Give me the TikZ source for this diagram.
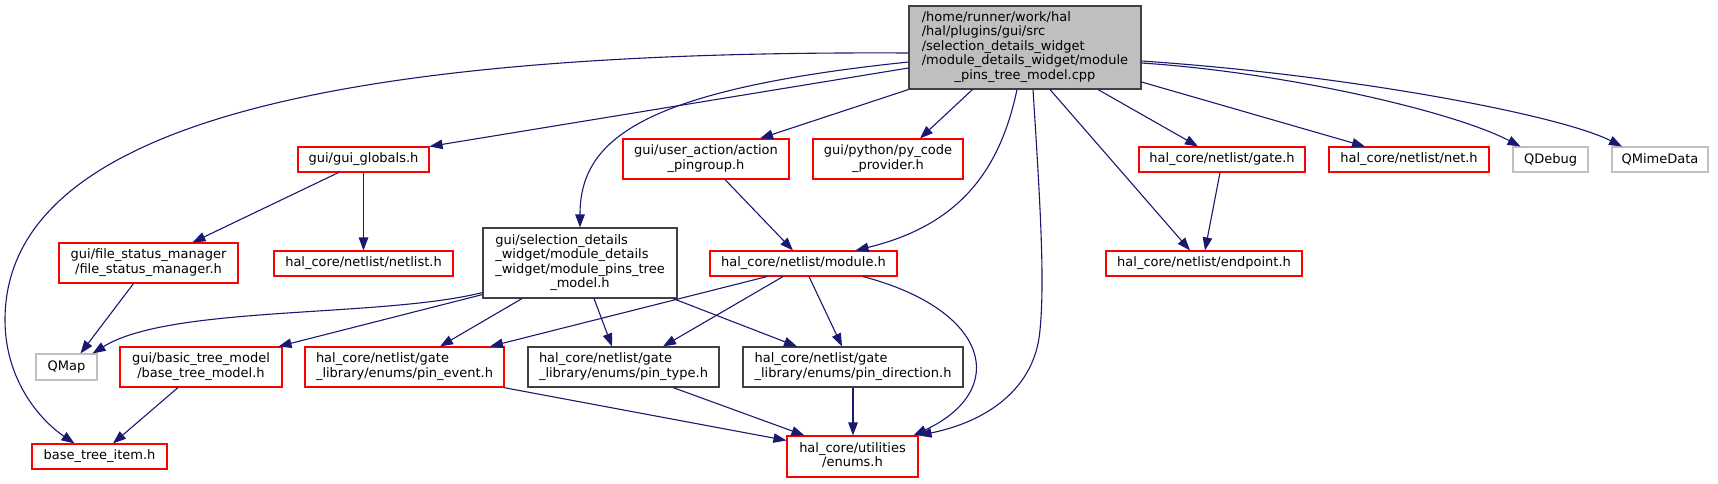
\documentclass[tikz,border=0pt]{standalone}
\usepackage{fontspec}
\setmainfont{DejaVu Sans}
\usetikzlibrary{arrows.meta,calc}
\definecolor{edgec}{HTML}{191970}
\definecolor{redb}{HTML}{FF0000}
\definecolor{grayb}{HTML}{BFBFBF}
\definecolor{darkb}{HTML}{404040}
\definecolor{rootfill}{HTML}{BFBFBF}
\newcommand{\ml}[1]{\begin{tabular}{@{}l@{}}#1\end{tabular}}
\newcommand{\lc}[1]{\multicolumn{1}{@{}c@{}}{#1}}
\begin{document}
\begin{tikzpicture}[x=1pt,y=-1pt,
  box/.style={draw, line width=1.1pt, inner sep=0pt, font=\fontsize{13}{14.5}\selectfont, text=black},
  redbox/.style={box, draw=redb},
  graybox/.style={box, draw=grayb},
  blkbox/.style={box, draw=darkb},
  dep/.style={draw=edgec, line width=1.1pt, -{Triangle[length=13pt,width=9.5pt]}},
]
\path[use as bounding box, fill=white] (0,0) rectangle (1718,483);

% nodes
\node[blkbox, fill=rootfill, minimum width=232pt, minimum height=83pt] (root) at (1025,47.5)
  {\ml{/home/runner/work/hal\\/hal/plugins/gui/src\\/selection\_details\_widget\\/module\_details\_widget/module\\\lc{\_pins\_tree\_model.cpp}}};
\node[redbox, minimum width=131pt, minimum height=25pt] (glob) at (363.5,159.5) {gui/gui\_globals.h};
\node[redbox, minimum width=166pt, minimum height=40pt] (ping) at (706,159) {\ml{gui/user\_action/action\\\lc{\_pingroup.h}}};
\node[redbox, minimum width=150pt, minimum height=40pt] (pyc) at (888,159) {\ml{gui/python/py\_code\\\lc{\_provider.h}}};
\node[redbox, minimum width=166pt, minimum height=25pt] (gate) at (1222,159.5) {hal\_core/netlist/gate.h};
\node[redbox, minimum width=160pt, minimum height=25pt] (net) at (1409,159.5) {hal\_core/netlist/net.h};
\node[graybox, minimum width=75pt, minimum height=25pt] (qdbg) at (1550.5,159.5) {QDebug};
\node[graybox, minimum width=96pt, minimum height=25pt] (qmime) at (1660,159.5) {QMimeData};
\node[redbox, minimum width=179pt, minimum height=40pt] (fsm) at (148.5,263) {\ml{gui/file\_status\_manager\\\lc{/file\_status\_manager.h}}};
\node[redbox, minimum width=179pt, minimum height=25pt] (nl) at (363.5,263.5) {hal\_core/netlist/netlist.h};
\node[blkbox, minimum width=194pt, minimum height=70pt] (sel) at (580,263)
  {\ml{gui/selection\_details\\\_widget/module\_details\\\_widget/module\_pins\_tree\\\lc{\_model.h}}};
\node[redbox, minimum width=187pt, minimum height=25pt] (mod) at (803.5,263.5) {hal\_core/netlist/module.h};
\node[redbox, minimum width=196pt, minimum height=25pt] (ep) at (1204,263.5) {hal\_core/netlist/endpoint.h};
\node[graybox, minimum width=61pt, minimum height=26pt] (qmap) at (66.5,367) {QMap};
\node[redbox, minimum width=162pt, minimum height=40pt] (btm) at (201,367) {\ml{gui/basic\_tree\_model\\\lc{/base\_tree\_model.h}}};
\node[redbox, minimum width=199pt, minimum height=40pt] (pev) at (404.5,367) {\ml{hal\_core/netlist/gate\\\lc{\_library/enums/pin\_event.h}}};
\node[blkbox, minimum width=191pt, minimum height=40pt] (pty) at (623.5,367) {\ml{hal\_core/netlist/gate\\\lc{\_library/enums/pin\_type.h}}};
\node[blkbox, minimum width=220pt, minimum height=40pt] (pdir) at (853,367) {\ml{hal\_core/netlist/gate\\\lc{\_library/enums/pin\_direction.h}}};
\node[redbox, minimum width=135pt, minimum height=25pt] (bti) at (99.5,456.5) {base\_tree\_item.h};
\node[redbox, minimum width=131pt, minimum height=41pt] (en) at (852.5,456.5) {\ml{hal\_core/utilities\\\lc{/enums.h}}};

% edges from root
\draw[dep] ($(root.west)+(0,5.5)$) .. controls (350,50) and (5,120) .. (5,320) .. controls (5,380) and (40,420) .. ($(bti.north)+(-25,0)$);
\draw[dep] ($(root.west)+(0,20.5)$) -- (glob.north east);
\draw[dep] ($(root.west)+(0,14.5)$) .. controls (640,90) and (580,140) .. (sel.north);
\draw[dep] (root.south west) -- ($(ping.north)+(54,0)$);
\draw[dep] ($(root.south west)+(64,0)$) -- ($(pyc.north)+(32,0)$);
\draw[dep] ($(root.south)+(-8,0)$) .. controls (1000,170) and (960,225) .. ($(mod.north east)+(-42,0)$);
\draw[dep] ($(root.south)+(8,0)$) .. controls (1040,200) and (1045,280) .. (1040,330) .. controls (1035,390) and (985,422) .. (en.north east);
\draw[dep] ($(root.south)+(25,0)$) -- ($(ep.north)+(-14,0)$);
\draw[dep] ($(root.south)+(73,0)$) -- ($(gate.north)+(-24,0)$);
\draw[dep] ($(root.east)+(0,34.5)$) -- ($(net.north)+(-44,0)$);
\draw[dep] ($(root.east)+(0,15.5)$) .. controls (1280,72) and (1450,110) .. ($(qdbg.north)+(-30,0)$);
\draw[dep] ($(root.east)+(0,13.5)$) .. controls (1350,75) and (1560,115) .. ($(qmime.north)+(-38,0)$);

% other edges
\draw[dep] ($(glob.south)+(-25,0)$) -- ($(fsm.north)+(44,0)$);
\draw[dep] (glob.south) -- (nl.north);
\draw[dep] ($(fsm.south)+(-15,0)$) -- ($(qmap.north)+(14,0)$);
\draw[dep] ($(sel.south west)+(0,-6)$) .. controls (380,318) and (170,305) .. ($(qmap.north east)+(-5,0)$);
\draw[dep] ($(sel.south west)+(0,-4)$) -- ($(btm.north east)+(-4,0)$);
\draw[dep] ($(sel.south)+(-58,0)$) -- ($(pev.north)+(35.5,0)$);
\draw[dep] ($(sel.south)+(14,0)$) -- ($(pty.north)+(-11.5,0)$);
\draw[dep] ($(sel.south)+(93,0)$) -- ($(pdir.north)+(-56,0)$);
\draw[dep] ($(ping.south)+(19,0)$) -- ($(mod.north)+(-10.5,0)$);
\draw[dep] ($(mod.south)+(-36.5,0)$) -- ($(pev.north)+(85.5,0)$);
\draw[dep] ($(mod.south)+(-20.5,0)$) -- ($(pty.north)+(39.5,0)$);
\draw[dep] ($(mod.south)+(5.5,0)$) -- ($(pdir.north)+(-11,0)$);
\draw[dep] ($(mod.south)+(59.5,0)$) .. controls (990,310) and (1010,390) .. ($(en.north east)+(-5,0)$);
\draw[dep] ($(pev.south east)+(-1,0)$) -- ($(en.north west)+(0,5)$);
\draw[dep] ($(pty.south)+(49.5,0)$) -- ($(en.north west)+(18,0)$);
\draw[dep] (pdir.south) -- (pdir.south |- en.north);
\draw[dep] ($(btm.south)+(-23,0)$) -- ($(bti.north)+(13.5,0)$);
\draw[dep] ($(gate.south)+(-2,0)$) -- ($(ep.north)+(1,0)$);
\end{tikzpicture}
\end{document}
